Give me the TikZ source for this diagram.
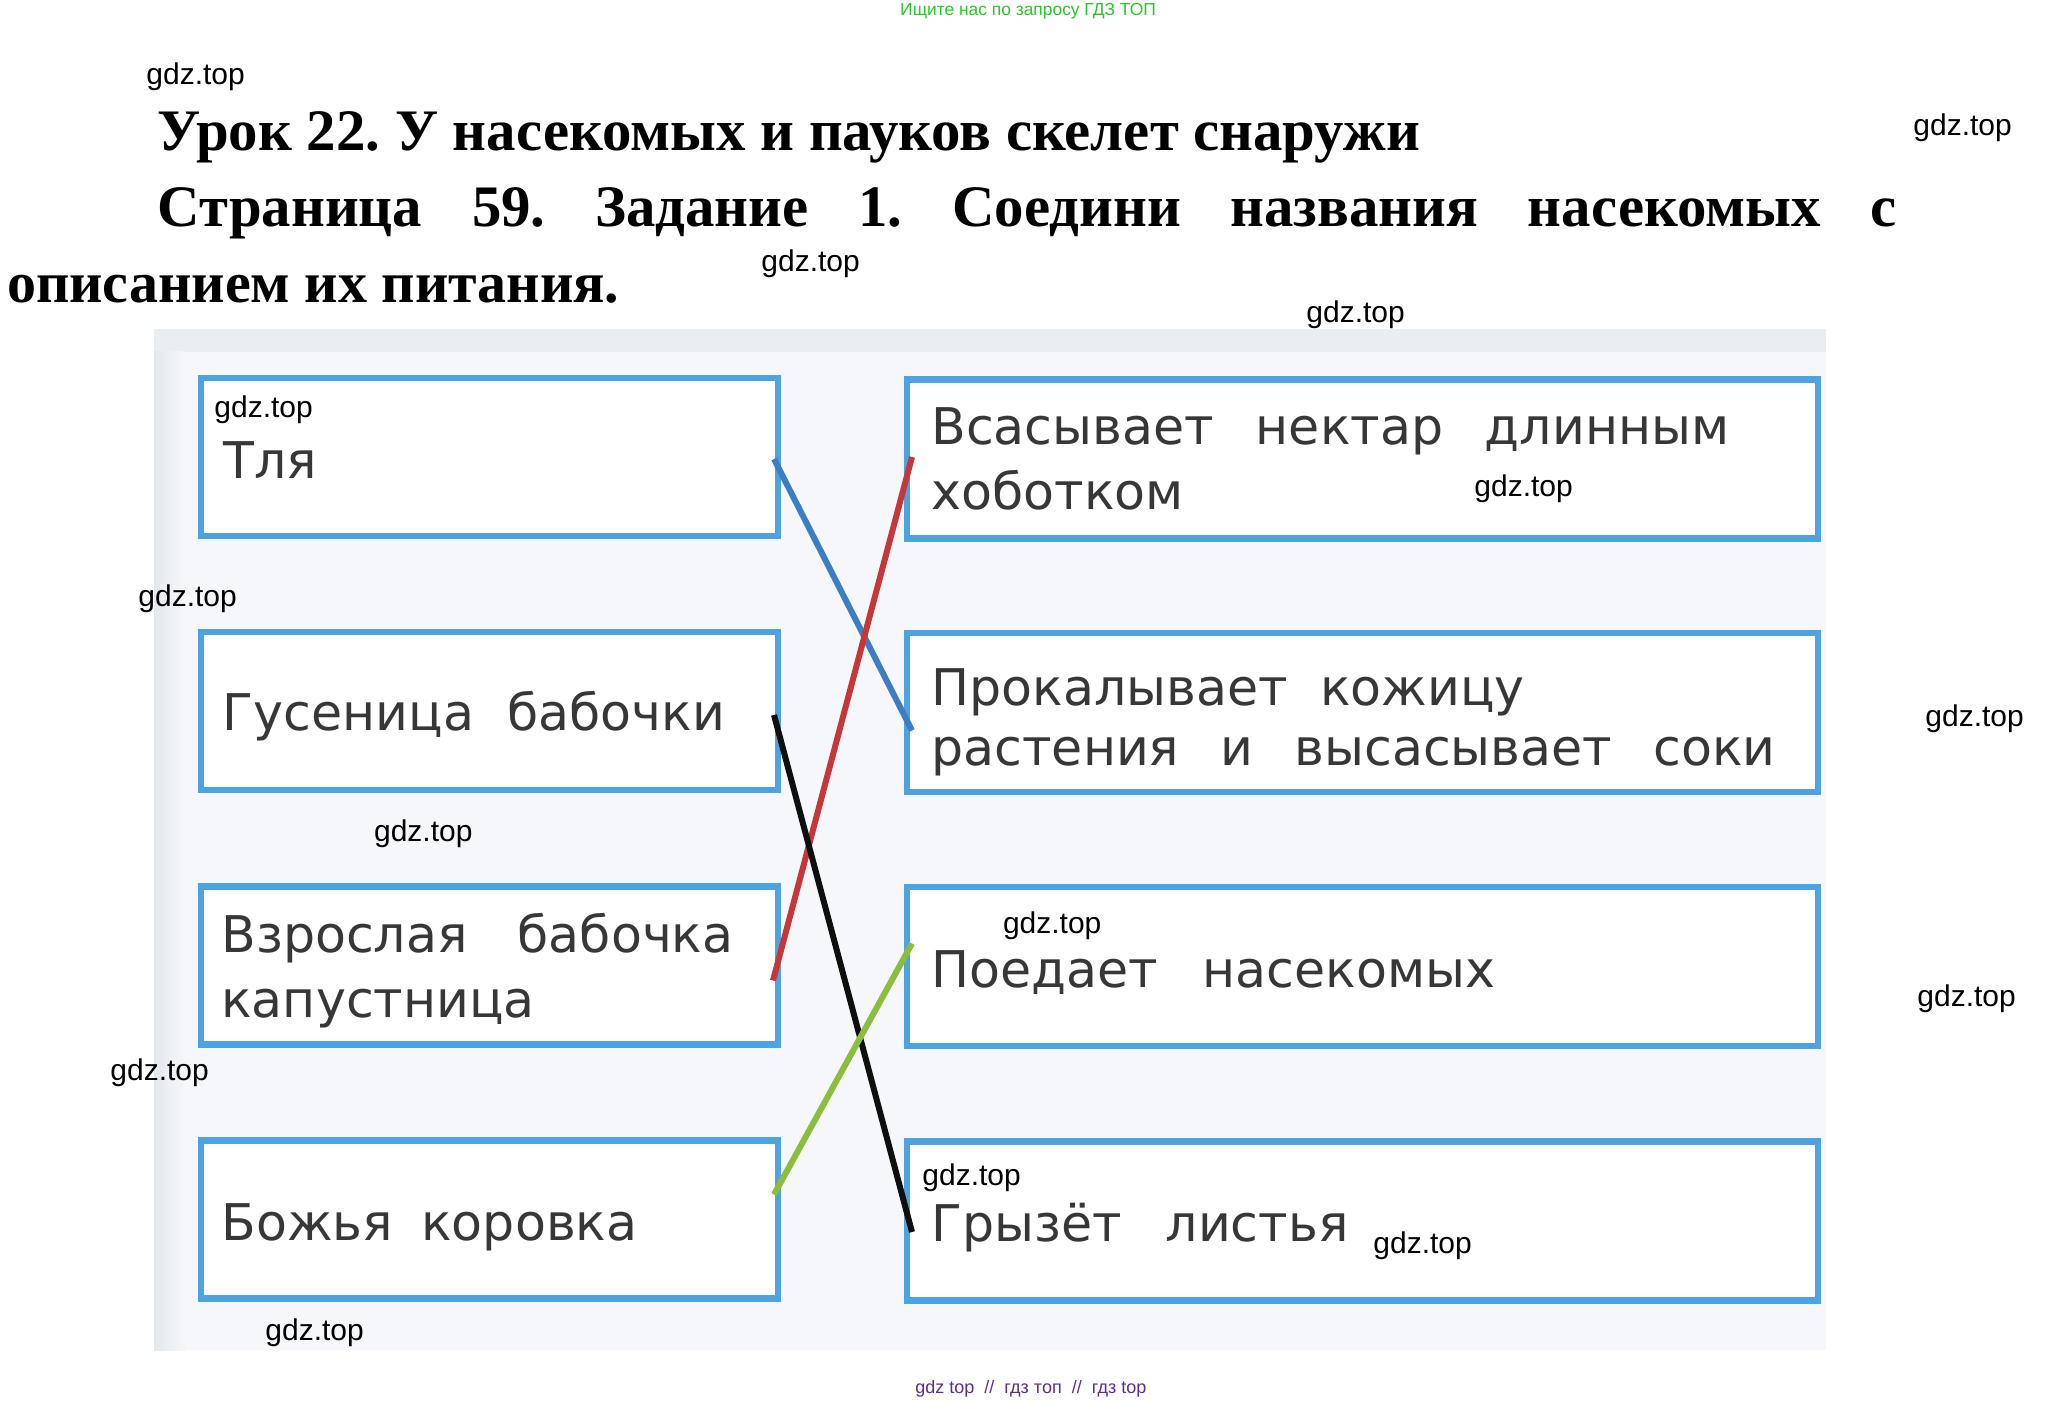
\documentclass[tikz,border=0pt]{standalone}
\usepackage{fontspec}
\setmainfont{Liberation Serif}
\newfontfamily\boxfont{DejaVu Sans}
\newfontfamily\wmfont{Liberation Sans}
\definecolor{boxblue}{RGB}{77,163,224}
\definecolor{txtgray}{RGB}{55,55,55}
\definecolor{pagebg}{RGB}{245,247,250}
\definecolor{pageedge}{RGB}{228,232,237}
\definecolor{ghostband}{RGB}{234,237,241}
\definecolor{lnblue}{RGB}{63,125,195}
\definecolor{lnred}{RGB}{198,55,58}
\definecolor{lnblack}{RGB}{15,15,15}
\definecolor{lngreen}{RGB}{140,190,62}
\definecolor{topgreen}{RGB}{40,200,40}
\definecolor{botpurple}{RGB}{92,45,145}
\begin{document}
\frenchspacing
\begin{tikzpicture}[x=0.5pt,y=-0.5pt,
  wm/.style={font=\wmfont\fontsize{15}{18}\selectfont, anchor=base west, inner sep=0pt, text=black},
  boxtxt/.style={font=\boxfont\fontsize{25.3}{30}\selectfont, anchor=base west, inner sep=0pt, text=txtgray},
  headtxt/.style={font=\fontsize{29.4}{35}\selectfont\bfseries, anchor=base west, inner sep=0pt, text=black},
  leftbox/.style={rectangle, draw=boxblue, line width=3.25pt, fill=white, inner sep=0pt, outer sep=0pt, minimum width=288.5pt, minimum height=79pt},
  rightbox/.style={rectangle, draw=boxblue, line width=3.25pt, fill=white, inner sep=0pt, outer sep=0pt, minimum width=455.5pt, minimum height=79.5pt},
  link/.style={line width=3pt}]
\useasboundingbox (0,0) rectangle (2058,1401);
\fill[white] (0,0) rectangle (2058,1401);
% scanned page background
\fill[pagebg] (154,329) rectangle (1826,1350);
\fill[ghostband] (154,329) rectangle (1826,352);
\shade[left color=pageedge, right color=pagebg] (154,352) rectangle (185,1350);
% header
\node[font=\wmfont\fontsize{8.7}{11}\selectfont, text=topgreen, inner sep=0pt] (topline) at (1028,11) {Ищите нас по запросу ГДЗ ТОП};
\node[headtxt] (title) at (157.5,151) {Урок 22. У насекомых и пауков скелет снаружи};
\node[headtxt] (task1) at (157.5,227) {\makebox[869.5pt][s]{Страница 59. Задание 1. Соедини названия насекомых с}};
\node[headtxt, font=\fontsize{29}{35}\selectfont\bfseries] (task2) at (6.6,303) {описанием их питания.};
% boxes
\node[leftbox] (L1) at (489.5,457) {};
\node[leftbox] (L2) at (489.5,711) {};
\node[leftbox] (L3) at (489.5,965.5) {};
\node[leftbox] (L4) at (489.5,1219.5) {};
\node[rightbox] (R1) at (1362.5,459) {};
\node[rightbox] (R2) at (1362.5,712.5) {};
\node[rightbox] (R3) at (1362.5,966.5) {};
\node[rightbox] (R4) at (1362.5,1221) {};
% box texts
\node[boxtxt] (l1a) at (223,479) {Тля};
\node[boxtxt] (l2a) at (222.5,730.7) {\makebox[251pt][s]{Гусеница бабочки}};
\node[boxtxt] (l3a) at (221,952.6) {\makebox[256pt][s]{Взрослая бабочка}};
\node[boxtxt] (l3b) at (221,1017) {капустница};
\node[boxtxt] (l4a) at (221,1240.5) {\makebox[208pt][s]{Божья коровка}};
\node[boxtxt] (r1a) at (931,445) {\makebox[399pt][s]{Всасывает нектар длинным}};
\node[boxtxt] (r1b) at (931,510) {хоботком};
\node[boxtxt] (r2a) at (931,705) {\makebox[296.5pt][s]{Прокалывает кожицу}};
\node[boxtxt] (r2b) at (931,765) {\makebox[422pt][s]{растения и высасывает соки}};
\node[boxtxt] (r3a) at (931,987.3) {\makebox[282pt][s]{Поедает насекомых}};
\node[boxtxt] (r4a) at (931,1241.7) {\makebox[208.5pt][s]{Грызёт листья}};
% connectors
\draw[link, lnblue] ([shift={(-4,2)}]L1.east) -- ([shift={(5,18)}]R2.west);
\draw[link, lnred] ([shift={(5,-2)}]R1.west) -- ([shift={(-5,15)}]L3.east);
\draw[link, lnblack] ([shift={(-4,4)}]L2.east) -- ([shift={(5,11)}]R4.west);
\draw[link, lngreen] ([shift={(5,-23)}]R3.west) -- ([shift={(-4,-25)}]L4.east);
% watermarks
\node[wm] (w1) at (146,85) {gdz.top};
\node[wm] (w2) at (1913,136) {gdz.top};
\node[wm] (w3) at (761,272) {gdz.top};
\node[wm] (w4) at (1306,323) {gdz.top};
\node[wm] (w5) at (214,418) {gdz.top};
\node[wm] (w6) at (1474,497) {gdz.top};
\node[wm] (w7) at (138,607) {gdz.top};
\node[wm] (w8) at (1925,726) {gdz.top};
\node[wm] (w9) at (373.7,841) {gdz.top};
\node[wm] (w10) at (1002.6,933) {gdz.top};
\node[wm] (w11) at (1917,1006) {gdz.top};
\node[wm] (w12) at (110,1080) {gdz.top};
\node[wm] (w13) at (922,1185) {gdz.top};
\node[wm] (w14) at (1373,1253) {gdz.top};
\node[wm] (w15) at (265,1340) {gdz.top};
% footer
\node[font=\wmfont\fontsize{9}{11}\selectfont, text=botpurple, anchor=base west, inner sep=0pt] (botline) at (915,1393) {gdz top\ \ //\ \ гдз топ\ \ //\ \ гдз top};
\end{tikzpicture}
\end{document}
